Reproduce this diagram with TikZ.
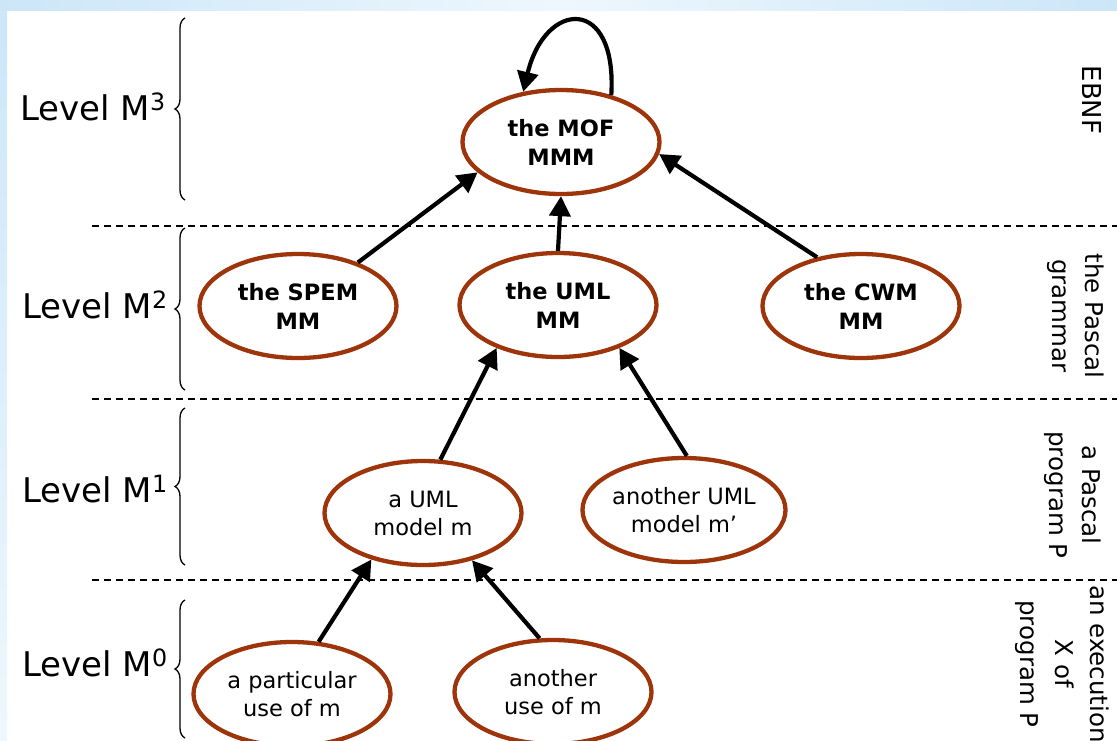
\documentclass[tikz,border=0pt]{standalone}
\usepackage{fontspec}
\setmainfont{DejaVu Sans}
\usetikzlibrary{shapes.geometric,arrows.meta,decorations.pathreplacing}
\definecolor{brn}{RGB}{158,52,10}
\definecolor{skyA}{RGB}{204,230,248}
\definecolor{skyB}{RGB}{238,247,253}
\begin{document}
\begin{tikzpicture}[x=1pt,y=1pt,
 mm/.style={ellipse,draw=brn,line width=4.3pt,minimum width=197pt,minimum height=104pt,inner sep=0pt,align=center,font=\fontsize{22.5}{28}\selectfont},
 bmm/.style={mm,font=\fontsize{22.5}{29}\selectfont\bfseries},
 arr/.style={line width=4.2pt,-{Triangle[length=20pt,width=21pt]}},
 lvl/.style={anchor=base west,inner sep=0pt,font=\fontsize{34}{38}\selectfont},
 side/.style={rotate=-90,align=center,font=\fontsize{24.5}{33}\selectfont},
 sep/.style={line width=1.4pt,dash pattern=on 7pt off 5pt},
 brc/.style={decorate,decoration={brace,amplitude=10pt},line width=1.3pt}]

\useasboundingbox (0,0) rectangle (1117,-740);
\fill[white] (0,0) rectangle (1117,-740);
\shade[top color=skyA,bottom color=skyB] (0,0) rectangle (7,-740);
\shade[left color=skyA,right color=skyA,middle color=skyB] (0,0) rectangle (1117,-10);

% separators
\draw[sep] (92,-226) -- (1117,-226);
\draw[sep] (92,-399) -- (1117,-399);
\draw[sep] (92,-580) -- (1117,-580);

% braces
\draw[brc] (185,-200) -- (185,-18);
\draw[brc] (185,-390) -- (185,-228);
\draw[brc] (185,-565) -- (185,-408);
\draw[brc] (185,-738) -- (185,-600);

% level labels
\node[lvl] (l3) at (20,-120) {Level M\textsuperscript{3}};
\node[lvl] (l2) at (22,-318) {Level M\textsuperscript{2}};
\node[lvl] (l1) at (22,-502) {Level M\textsuperscript{1}};
\node[lvl] (l0) at (22,-676) {Level M\textsuperscript{0}};

% side labels
\node[side,font=\fontsize{26}{33}\selectfont] (s3) at (1092,-100) {EBNF};
\node[side] (s2) at (1076,-316) {the Pascal\\grammar};
\node[side] (s1) at (1073,-495) {a Pascal\\program P};
\node[side,font=\fontsize{24.5}{35}\selectfont] (s0) at (1062,-664) {an execution\\X of\\program P};

% ellipses
\node[bmm] (mof) at (561,-142) {the MOF\\MMM};
\node[bmm] (spem) at (298,-306) {the SPEM\\MM};
\node[bmm] (uml) at (558,-305) {the UML\\MM};
\node[bmm] (cwm) at (861,-306) {the CWM\\MM};
\node[mm] (m) at (423,-513) {a UML\\model m};
\node[mm] (mp) at (684,-510) {another UML\\model m’};
\node[mm] (u1) at (292,-694) {a particular\\use of m};
\node[mm] (u2) at (553,-692) {another\\use of m};

% arrows
\draw[arr] (spem.36) -- (mof.200);
\draw[arr] (uml.90) -- (mof.270);
\draw[arr] (cwm.132) -- (mof.353);
\draw[arr] (m.72) -- (uml.215);
\draw[arr] (mp.87) -- (uml.325);
\draw[arr] (u1.63) -- (m.222);
\draw[arr] (u2.104) -- (m.316);
\draw[arr] (mof.43) .. controls +(6,100) and +(22,92) .. (mof.127);
\end{tikzpicture}
\end{document}
